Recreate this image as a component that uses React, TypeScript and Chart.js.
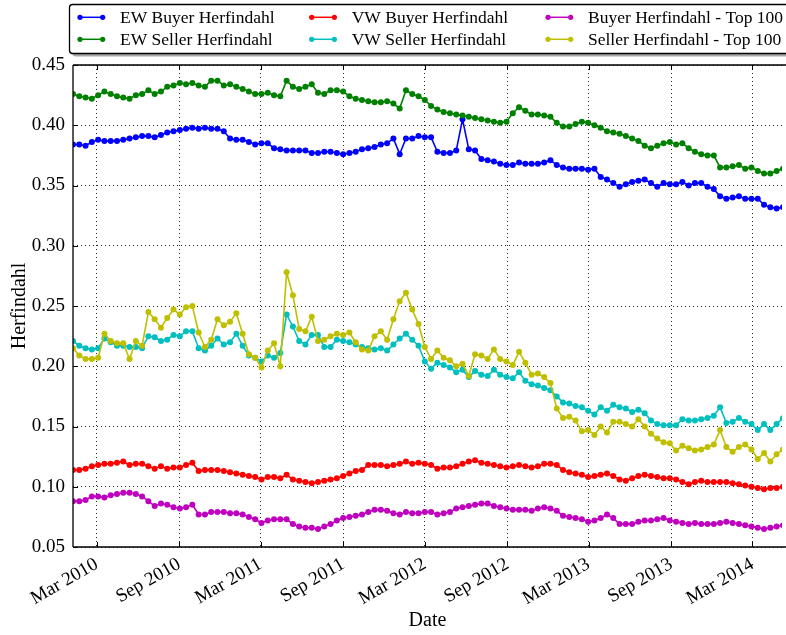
import React, { useEffect, useRef } from "react";
import { Chart, registerables } from "chart.js";

Chart.register(...registerables);

const dates = [
  "2010-01-07","2010-01-21","2010-02-04","2010-02-18","2010-03-04","2010-03-18","2010-04-01","2010-04-15","2010-04-29","2010-05-13",
  "2010-05-27","2010-06-10","2010-06-24","2010-07-08","2010-07-22","2010-08-05","2010-08-19","2010-09-02","2010-09-16","2010-09-30",
  "2010-10-14","2010-10-28","2010-11-11","2010-11-25","2010-12-09","2010-12-23","2011-01-06","2011-01-20","2011-02-03","2011-02-17",
  "2011-03-03","2011-03-17","2011-03-31","2011-04-14","2011-04-28","2011-05-12","2011-05-26","2011-06-09","2011-06-23","2011-07-07",
  "2011-07-21","2011-08-04","2011-08-18","2011-09-01","2011-09-15","2011-09-29","2011-10-13","2011-10-27","2011-11-10","2011-11-24",
  "2011-12-08","2011-12-22","2012-01-05","2012-01-19","2012-02-02","2012-02-16","2012-03-01","2012-03-15","2012-03-29","2012-04-12",
  "2012-04-26","2012-05-10","2012-05-24","2012-06-07","2012-06-21","2012-07-05","2012-07-19","2012-08-02","2012-08-16","2012-08-30",
  "2012-09-13","2012-09-27","2012-10-11","2012-10-25","2012-11-08","2012-11-22","2012-12-06","2012-12-20","2013-01-03","2013-01-17",
  "2013-01-31","2013-02-14","2013-02-28","2013-03-14","2013-03-28","2013-04-11","2013-04-25","2013-05-09","2013-05-23","2013-06-06",
  "2013-06-20","2013-07-04","2013-07-18","2013-08-01","2013-08-15","2013-08-29","2013-09-12","2013-09-26","2013-10-10","2013-10-24",
  "2013-11-07","2013-11-21","2013-12-05","2013-12-19","2014-01-02","2014-01-16","2014-01-30","2014-02-13","2014-02-27","2014-03-13",
  "2014-03-27","2014-04-10","2014-04-24","2014-05-08"
];

const ewBuyer = [
  0.384,0.384,0.383,0.386,0.388,0.387,0.387,0.387,0.388,0.389,
  0.390,0.391,0.391,0.390,0.392,0.394,0.395,0.396,0.397,0.398,
  0.397,0.398,0.397,0.397,0.395,0.389,0.388,0.388,0.386,0.384,
  0.385,0.385,0.381,0.380,0.379,0.379,0.379,0.379,0.377,0.377,
  0.378,0.378,0.377,0.376,0.377,0.378,0.380,0.381,0.382,0.384,
  0.385,0.389,0.376,0.389,0.389,0.391,0.390,0.390,0.378,0.377,
  0.377,0.379,0.405,0.380,0.379,0.372,0.371,0.370,0.368,0.367,
  0.367,0.369,0.368,0.368,0.368,0.369,0.371,0.367,0.365,0.364,
  0.364,0.364,0.363,0.364,0.357,0.355,0.352,0.349,0.351,0.353,
  0.354,0.355,0.352,0.349,0.352,0.351,0.351,0.353,0.350,0.352,
  0.352,0.349,0.347,0.341,0.339,0.340,0.341,0.339,0.339,0.339,
  0.334,0.332,0.331,0.332
];

const ewSeller = [
  0.426,0.424,0.423,0.422,0.425,0.428,0.426,0.424,0.423,0.422,
  0.425,0.426,0.429,0.426,0.428,0.432,0.433,0.435,0.434,0.435,
  0.433,0.432,0.437,0.437,0.433,0.434,0.432,0.430,0.428,0.426,
  0.426,0.427,0.425,0.424,0.437,0.432,0.430,0.432,0.434,0.427,
  0.426,0.429,0.429,0.428,0.424,0.422,0.421,0.420,0.419,0.419,
  0.420,0.418,0.414,0.429,0.426,0.424,0.421,0.416,0.413,0.411,
  0.410,0.409,0.408,0.407,0.406,0.405,0.404,0.403,0.402,0.403,
  0.410,0.415,0.412,0.409,0.409,0.408,0.407,0.402,0.399,0.399,
  0.401,0.403,0.402,0.400,0.398,0.395,0.394,0.393,0.391,0.389,
  0.387,0.383,0.381,0.383,0.385,0.386,0.384,0.385,0.381,0.378,
  0.376,0.375,0.375,0.365,0.365,0.366,0.367,0.364,0.365,0.362,
  0.360,0.360,0.362,0.364
];

const vwBuyer = [
  0.114,0.114,0.115,0.117,0.118,0.119,0.119,0.120,0.121,0.118,
  0.119,0.119,0.117,0.115,0.117,0.115,0.116,0.116,0.118,0.120,
  0.113,0.114,0.114,0.114,0.113,0.112,0.111,0.110,0.109,0.108,
  0.106,0.108,0.108,0.107,0.110,0.106,0.105,0.104,0.103,0.104,
  0.105,0.106,0.107,0.109,0.111,0.113,0.114,0.118,0.118,0.118,
  0.117,0.118,0.119,0.121,0.119,0.120,0.119,0.118,0.115,0.116,
  0.116,0.117,0.119,0.121,0.122,0.120,0.119,0.118,0.117,0.116,
  0.117,0.118,0.117,0.116,0.117,0.119,0.119,0.118,0.114,0.112,
  0.111,0.110,0.108,0.109,0.110,0.111,0.109,0.106,0.105,0.107,
  0.109,0.110,0.109,0.108,0.107,0.107,0.106,0.104,0.102,0.104,
  0.105,0.104,0.104,0.104,0.104,0.103,0.102,0.101,0.100,0.099,
  0.098,0.099,0.099,0.100
];

const vwSeller = [
  0.221,0.217,0.215,0.214,0.215,0.223,0.220,0.217,0.217,0.216,
  0.216,0.215,0.225,0.224,0.221,0.222,0.226,0.225,0.229,0.229,
  0.215,0.213,0.217,0.223,0.218,0.220,0.227,0.217,0.209,0.207,
  0.204,0.209,0.207,0.211,0.243,0.233,0.221,0.218,0.226,0.226,
  0.216,0.216,0.222,0.221,0.220,0.218,0.216,0.215,0.214,0.215,
  0.213,0.218,0.223,0.227,0.222,0.217,0.204,0.198,0.203,0.201,
  0.199,0.195,0.197,0.191,0.196,0.193,0.192,0.197,0.193,0.191,
  0.190,0.195,0.188,0.185,0.184,0.182,0.180,0.175,0.170,0.169,
  0.167,0.166,0.163,0.160,0.166,0.163,0.168,0.166,0.165,0.162,
  0.164,0.161,0.155,0.152,0.151,0.151,0.151,0.156,0.155,0.155,
  0.156,0.157,0.159,0.166,0.153,0.154,0.157,0.154,0.152,0.147,
  0.152,0.147,0.152,0.157
];

const buyerTop100 = [
  0.088,0.088,0.089,0.092,0.092,0.091,0.093,0.094,0.095,0.095,
  0.094,0.092,0.088,0.084,0.086,0.085,0.083,0.082,0.083,0.085,
  0.077,0.077,0.079,0.079,0.079,0.078,0.078,0.077,0.075,0.073,
  0.070,0.072,0.073,0.073,0.073,0.069,0.067,0.066,0.066,0.065,
  0.067,0.069,0.072,0.074,0.075,0.076,0.077,0.079,0.081,0.081,
  0.080,0.078,0.077,0.079,0.078,0.078,0.079,0.079,0.077,0.078,
  0.079,0.082,0.083,0.084,0.085,0.086,0.086,0.084,0.083,0.082,
  0.081,0.081,0.081,0.080,0.082,0.083,0.082,0.080,0.076,0.075,
  0.074,0.073,0.071,0.072,0.074,0.077,0.074,0.069,0.069,0.069,
  0.071,0.072,0.072,0.073,0.074,0.072,0.071,0.070,0.069,0.070,
  0.069,0.069,0.069,0.070,0.071,0.070,0.069,0.068,0.067,0.066,
  0.065,0.066,0.067,0.068
];

const sellerTop100 = [
  0.215,0.209,0.206,0.206,0.207,0.227,0.221,0.219,0.219,0.206,
  0.221,0.217,0.245,0.239,0.232,0.240,0.247,0.243,0.249,0.250,
  0.228,0.216,0.222,0.239,0.234,0.237,0.244,0.227,0.210,0.207,
  0.199,0.213,0.219,0.200,0.278,0.259,0.231,0.229,0.241,0.221,
  0.222,0.225,0.227,0.226,0.228,0.220,0.214,0.213,0.225,0.229,
  0.222,0.239,0.254,0.261,0.247,0.235,0.216,0.206,0.213,0.207,
  0.205,0.200,0.202,0.192,0.210,0.209,0.206,0.214,0.206,0.204,
  0.201,0.212,0.203,0.193,0.194,0.191,0.186,0.165,0.157,0.158,
  0.155,0.146,0.147,0.143,0.150,0.145,0.154,0.154,0.152,0.150,
  0.156,0.150,0.144,0.140,0.137,0.136,0.130,0.134,0.132,0.130,
  0.131,0.133,0.135,0.147,0.133,0.129,0.133,0.135,0.131,0.123,
  0.128,0.121,0.127,0.131
];

const tickDates = [
  "2010-03-01","2010-09-01","2011-03-01","2011-09-01","2012-03-01",
  "2012-09-01","2013-03-01","2013-09-01","2014-03-01"
];
const tickLabels = [
  "Mar 2010","Sep 2010","Mar 2011","Sep 2011","Mar 2012",
  "Sep 2012","Mar 2013","Sep 2013","Mar 2014"
];

const X_MIN = "2010-01-07";
const X_MAX = "2014-05-06";

const seriesLabels = [
  "EW Buyer Herfindahl",
  "EW Seller Herfindahl",
  "VW Buyer Herfindahl",
  "VW Seller Herfindahl",
  "Buyer Herfindahl - Top 100",
  "Seller Herfindahl - Top 100",
];
const seriesValues = [ewBuyer, ewSeller, vwBuyer, vwSeller, buyerTop100, sellerTop100];
const seriesColors = ["#0000ff", "#008000", "#ff0000", "#00bfbf", "#bf00bf", "#bfbf00"];

const SERIF = '"Liberation Serif", "DejaVu Serif", serif';

const framePlugin = {
  id: "frame",
  afterDraw(chart: any) {
    const { ctx, chartArea: a, scales } = chart;
    ctx.save();
    ctx.strokeStyle = "#000";
    ctx.lineWidth = 1.3;
    ctx.beginPath();
    ctx.moveTo(a.left, a.top);
    ctx.lineTo(a.right + 10, a.top);
    ctx.moveTo(a.left, a.top);
    ctx.lineTo(a.left, a.bottom);
    ctx.moveTo(a.left, a.bottom);
    ctx.lineTo(a.right + 10, a.bottom);
    ctx.stroke();
    ctx.lineWidth = 1;
    ctx.beginPath();
    scales.x.ticks.forEach((t: any) => {
      const px = Math.round(scales.x.getPixelForValue(t.value)) + 0.5;
      ctx.moveTo(px, a.bottom);
      ctx.lineTo(px, a.bottom - 5);
      ctx.moveTo(px, a.top);
      ctx.lineTo(px, a.top + 5);
    });
    scales.y.ticks.forEach((t: any) => {
      const py = Math.round(scales.y.getPixelForValue(t.value)) + 0.5;
      ctx.moveTo(a.left, py);
      ctx.lineTo(a.left + 5, py);
    });
    ctx.stroke();

    const bx = 69.5, by = 4.5, bw = 760, bh = 49;
    ctx.fillStyle = "#a8a8a8";
    ctx.beginPath();
    ctx.roundRect(bx + 3, by + 3, bw, bh, 3);
    ctx.fill();
    ctx.fillStyle = "#fff";
    ctx.beginPath();
    ctx.roundRect(bx, by, bw, bh, 3);
    ctx.fill();
    ctx.strokeStyle = "#000";
    ctx.lineWidth = 1.3;
    ctx.stroke();

    const colX = [80, 311.7, 548];
    const rowY = [17.3, 39.3];
    ctx.font = `17.5px ${SERIF}`;
    ctx.textBaseline = "middle";
    ctx.textAlign = "left";
    chart.data.datasets.forEach((ds: any, i: number) => {
      const c = Math.floor(i / 2);
      const r = i % 2;
      const x0 = colX[c];
      const x1 = x0 + 22.7;
      const y = rowY[r];
      ctx.strokeStyle = ds.borderColor;
      ctx.lineWidth = 1.5;
      ctx.beginPath();
      ctx.moveTo(x0, y);
      ctx.lineTo(x1, y);
      ctx.stroke();
      ctx.fillStyle = ds.borderColor;
      [x0, x1].forEach((px) => {
        ctx.beginPath();
        ctx.arc(px, y, 2.6, 0, Math.PI * 2);
        ctx.fill();
      });
      ctx.fillStyle = "#000";
      ctx.fillText(ds.label, x0 + 40, y + 1);
    });
    ctx.restore();
  },
};

export default function App() {
  const ref = useRef<HTMLCanvasElement | null>(null);

  useEffect(() => {
    if (!ref.current) return;
    const xs = dates.map((d) => Date.parse(d));
    const tickValues = tickDates.map((d) => Date.parse(d));
    const datasets = seriesLabels.map((label, i) => ({
      label,
      data: seriesValues[i].map((v, j) => ({ x: xs[j], y: v })),
      borderColor: seriesColors[i],
      backgroundColor: seriesColors[i],
      pointBackgroundColor: seriesColors[i],
      pointBorderWidth: 0,
      pointRadius: 3,
      borderWidth: 1.6,
      tension: 0,
      fill: false,
      order: seriesLabels.length - 1 - i,
    }));

    const chart = new Chart(ref.current, {
      type: "line",
      data: { datasets },
      options: {
        responsive: false,
        animation: false,
        devicePixelRatio: 1,
        layout: { padding: { top: 65, left: 0, right: 0, bottom: 0 } },
        plugins: {
          legend: { display: false },
          tooltip: { enabled: false },
        },
        scales: {
          x: {
            type: "linear",
            min: Date.parse(X_MIN),
            max: Date.parse(X_MAX),
            afterBuildTicks: (scale: any) => {
              scale.ticks = tickValues.map((v) => ({ value: v }));
            },
            afterFit: (scale: any) => {
              scale.height = 88;
            },
            ticks: {
              autoSkip: false,
              minRotation: 30,
              maxRotation: 30,
              padding: 6,
              color: "#000",
              font: { family: SERIF, size: 19 },
              callback: (_v: any, idx: number) => tickLabels[idx],
            },
            grid: {
              color: "rgba(0,0,0,0.85)",
              lineWidth: 1,
              drawTicks: false,
            },
            border: { display: false, dash: [1, 3] },
            title: {
              display: true,
              text: "Date",
              color: "#000",
              font: { family: SERIF, size: 20 },
              padding: { top: 0, bottom: 2 },
            },
          },
          y: {
            type: "linear",
            min: 0.05,
            max: 0.45,
            afterFit: (scale: any) => {
              scale.width = 73;
            },
            ticks: {
              stepSize: 0.05,
              padding: 8,
              color: "#000",
              font: { family: SERIF, size: 19 },
              callback: (v: any) => Number(v).toFixed(2),
            },
            grid: {
              color: "rgba(0,0,0,0.85)",
              lineWidth: 1,
              drawTicks: false,
            },
            border: { display: false, dash: [1, 3] },
            title: {
              display: true,
              text: "Herfindahl",
              color: "#000",
              font: { family: SERIF, size: 20 },
              padding: { top: 8, bottom: 0 },
            },
          },
        },
      },
      plugins: [framePlugin],
    });
    return () => chart.destroy();
  }, []);

  return (
    <div style={{ position: "fixed", left: 0, top: 0, width: 786, height: 635, background: "#fff" }}>
      <canvas ref={ref} width={786} height={635} style={{ display: "block" }} />
    </div>
  );
}
